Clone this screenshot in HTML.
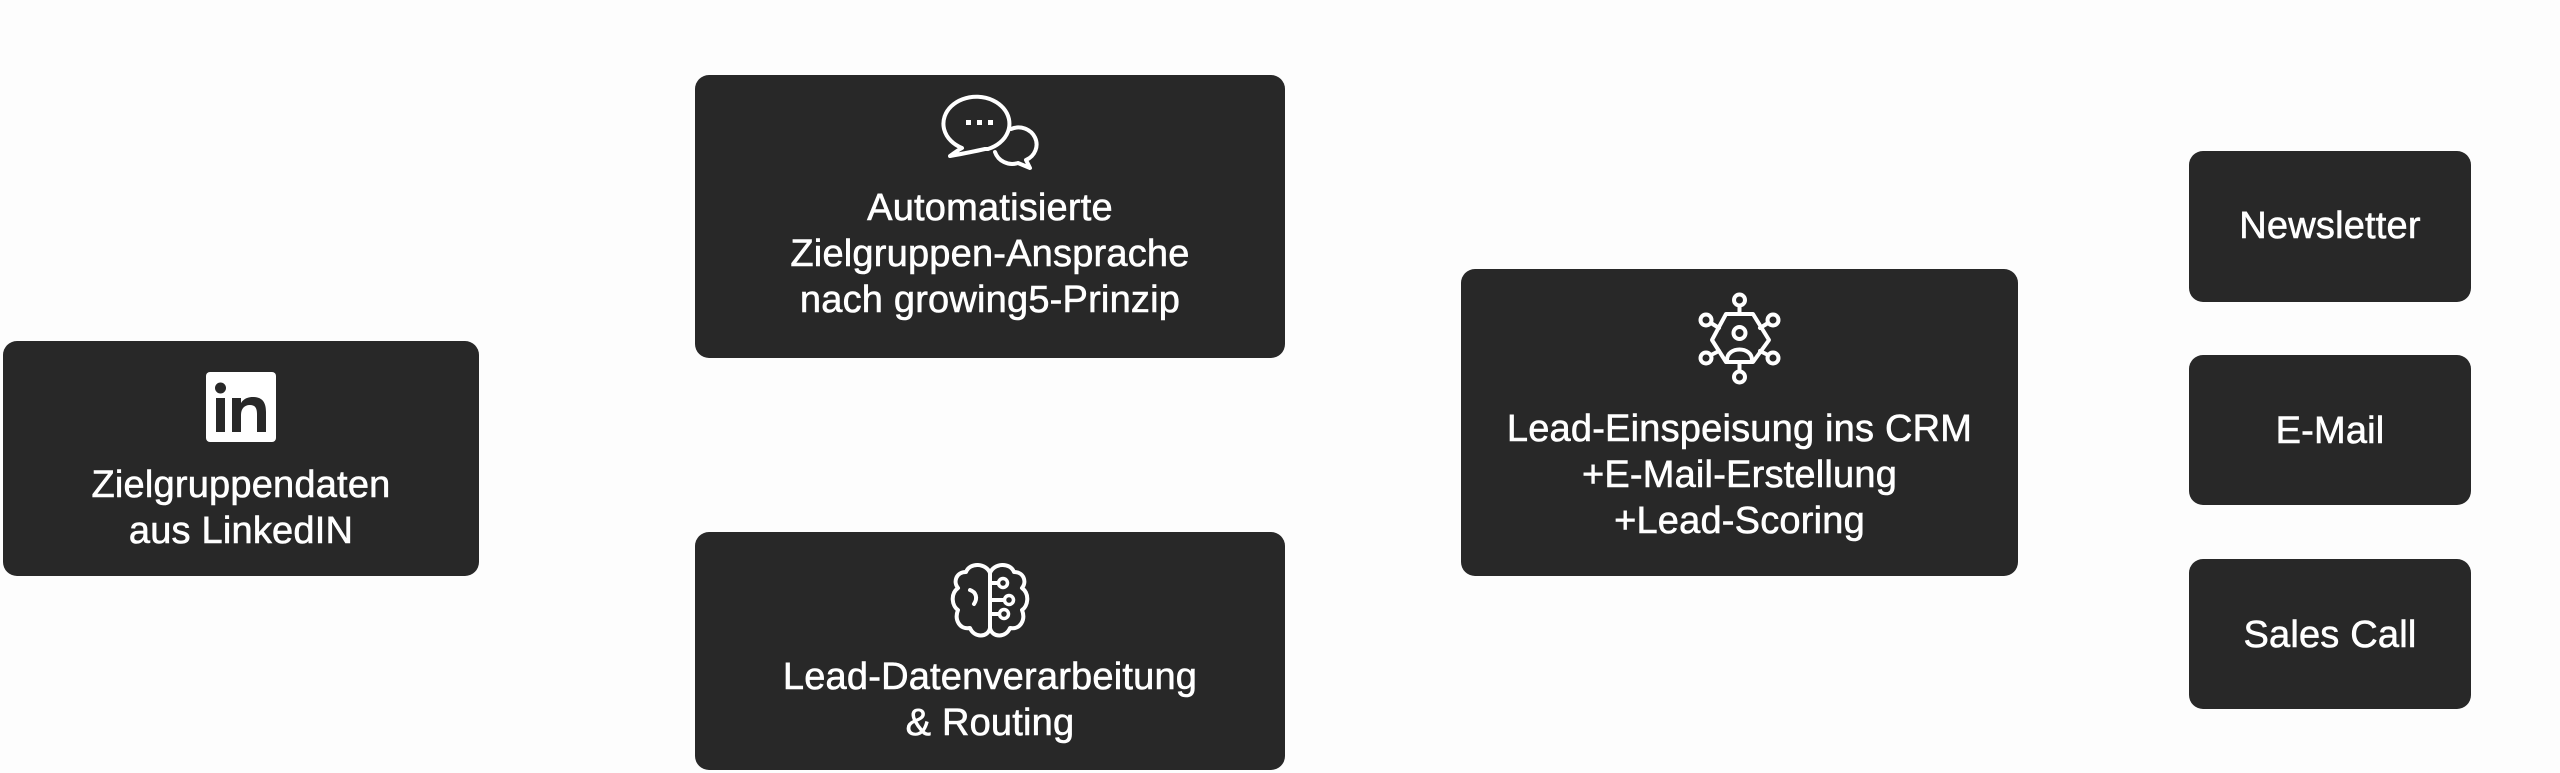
<!DOCTYPE html>
<html><head><meta charset="utf-8"><style>
html,body{margin:0;padding:0;background:#fdfdfd;}
body{width:2560px;height:773px;position:relative;overflow:hidden;font-family:"Liberation Sans","DejaVu Sans",sans-serif;}
.b{position:absolute;background:#282828;border-radius:14px;}
.t{position:absolute;left:0;right:0;text-align:center;color:#fff;font-size:38px;line-height:46px;letter-spacing:0.2px;-webkit-text-stroke:0.6px #fff;}
svg{position:absolute;left:0;top:0;}
</style></head><body>
<div class="b" style="left:3px;top:341px;width:476px;height:235px"></div>
<div class="b" style="left:695px;top:75px;width:590px;height:283px"></div>
<div class="b" style="left:695px;top:532px;width:590px;height:238px"></div>
<div class="b" style="left:1461px;top:269px;width:557px;height:307px"></div>
<div class="b" style="left:2189px;top:151px;width:282px;height:151px"></div>
<div class="b" style="left:2189px;top:355px;width:282px;height:150px"></div>
<div class="b" style="left:2189px;top:559px;width:282px;height:150px"></div>

<div class="t" style="left:3px;width:476px;top:462px">Zielgruppendaten<br>aus LinkedIN</div>
<div class="t" style="left:695px;width:590px;top:185px">Automatisierte<br>Zielgruppen-Ansprache<br>nach growing5-Prinzip</div>
<div class="t" style="left:695px;width:590px;top:654px">Lead-Datenverarbeitung<br>&amp; Routing</div>
<div class="t" style="left:1461px;width:557px;top:406px">Lead-Einspeisung ins CRM<br>+E-Mail-Erstellung<br>+Lead-Scoring</div>
<div class="t" style="left:2189px;width:282px;top:203px">Newsletter</div>
<div class="t" style="left:2189px;width:282px;top:408px">E-Mail</div>
<div class="t" style="left:2189px;width:282px;top:612px">Sales Call</div>

<svg width="2560" height="773" viewBox="0 0 2560 773">
 <rect x="206" y="372" width="70" height="70" rx="4" fill="#fff"/>
 <rect x="216" y="398" width="9" height="34" fill="#282828"/>
 <circle cx="220.5" cy="388" r="5.5" fill="#282828"/>
 <path d="M232 432 V398 H241 V403 C244 398 249 397 253 397 C262 397 266 402 266 412 V432 H257 V414 C257 408 255 405 250 405 C244 405 241 409 241 415 V432 Z" fill="#282828"/>
 <g fill="none" stroke="#fff" stroke-width="4" stroke-linejoin="round" stroke-linecap="round">
  <path d="M962 148 A33 27 0 1 1 988 149 L985 149 Q972 152 950 156 Q958 150 962 148 Z"/>
  <path d="M1011 129 A18 17 0 0 1 1026 160 L1030 168 L1018 163 A18 17 0 0 1 995 152"/>
  <path d="M990 573 C986 563 970 562 966 572 C956 572 953 582 958 588 C950 594 952 606 958 610 C954 620 960 630 970 628 C974 638 988 638 990 628 Z"/>
  <path d="M990 573 C994 563 1010 562 1014 572 C1024 572 1027 582 1022 588 C1030 594 1028 606 1022 610 C1026 620 1020 630 1010 628 C1006 638 992 638 990 628"/>
  <path d="M970 590 C976 592 978 598 974 604"/>
  <path d="M990 583 H999 M990 600 H1005 M990 614 H1000"/>
  <path d="M1726 314 H1753 L1769 340 L1753 362 H1726 L1712 340 Z"/>
  <circle cx="1739.5" cy="333" r="6"/>
  <path d="M1727 360 C1727 346 1752 346 1752 360"/>
  <path d="M1739.5 306 V314 M1739.5 362 V371 M1711 323 L1719 328 M1768 323 L1760 328 M1711 355 L1719 351 M1768 355 L1760 351"/>
  <circle cx="1739.5" cy="300" r="5.5"/><circle cx="1739.5" cy="377" r="5.5"/>
  <circle cx="1706" cy="320" r="5.5"/><circle cx="1773" cy="320" r="5.5"/>
  <circle cx="1706" cy="358" r="5.5"/><circle cx="1773" cy="358" r="5.5"/>
 </g>
 <g fill="#fff"><rect x="966" y="120" width="5" height="5"/><rect x="977" y="120" width="5" height="5"/><rect x="988" y="120" width="5" height="5"/></g>
 <g fill="#282828" stroke="#fff" stroke-width="3.5"><circle cx="1003" cy="583" r="4.5"/><circle cx="1009" cy="600" r="4.5"/><circle cx="1004" cy="614" r="4.5"/></g>
</svg>
</body></html>
